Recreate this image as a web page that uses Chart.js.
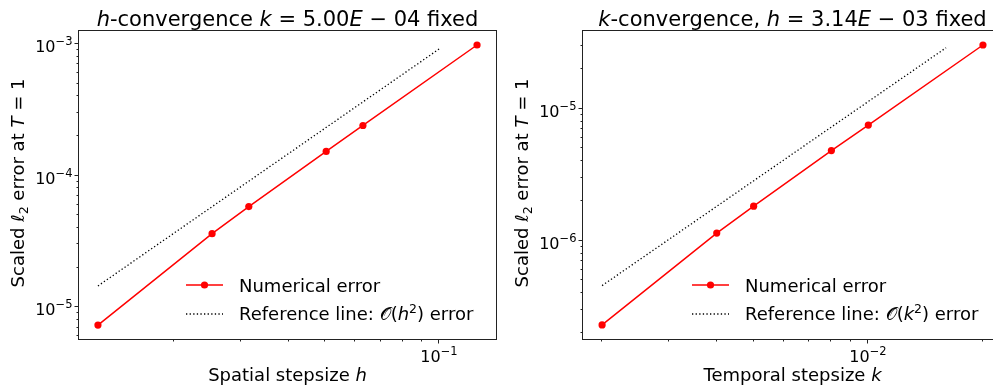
<!DOCTYPE html>
<html><head><meta charset="utf-8">
<script src="https://cdn.jsdelivr.net/npm/chart.js@4/dist/chart.umd.min.js"></script>
<style>
html,body{margin:0;padding:0;background:#fff;overflow:hidden;width:993px;height:386px;}
#wrap{position:relative;width:993px;height:386px;overflow:hidden;background:#fff;}
canvas{position:absolute;top:0;}
</style></head><body>
<div id="wrap">
<canvas id="c1" width="500" height="386" style="left:0px"></canvas>
<canvas id="c2" width="510" height="386" style="left:500px"></canvas>
</div>
<script>
// ---- data ----
const hValues = [0.012566, 0.025133, 0.031416, 0.050265, 0.062832, 0.125664];
const hErrors = [7.31e-6, 3.62e-5, 5.82e-5, 1.528e-4, 2.404e-4, 9.83e-4];
const hRefX = [0.012566, 0.10053];
const hRefY = [1.45e-5, 9.3e-4];

const kValues = [0.002, 0.004, 0.005, 0.008, 0.01, 0.02];
const kErrors = [2.30e-7, 1.143e-6, 1.828e-6, 4.82e-6, 7.52e-6, 3.043e-5];
const kRefX = [0.002, 0.016];
const kRefY = [4.57e-7, 2.90e-5];

const hAxis = {xmin: 0.01120, xmax: 0.1410, ymin: 5.73e-6, ymax: 1.256e-3};
const kAxis = {xmin: 0.001782, xmax: 0.02244, ymin: 1.80e-7, ymax: 3.885e-5};

const legendLabels = ['Numerical error', 'Reference line: '];

const FAM = "'DejaVu Sans'";
const TS = 21, LS = 18, SS = 12.5;
function fnt(s, it, fam) { return (it ? 'italic ' : '') + s + 'px ' + (fam || FAM); }
function richWidth(ctx, segs) {
  let w = 0;
  for (const g of segs) { ctx.font = fnt(g.s, g.it, g.f); w += ctx.measureText(g.t).width; }
  return w;
}
function drawRich(ctx, segs, x, y, align) {
  const w = richWidth(ctx, segs);
  let cx = align === 'center' ? x - w / 2 : align === 'right' ? x - w : x;
  ctx.textAlign = 'left'; ctx.textBaseline = 'alphabetic';
  for (const g of segs) {
    ctx.font = fnt(g.s, g.it, g.f);
    ctx.fillText(g.t, cx, y - (g.up || 0));
    cx += ctx.measureText(g.t).width;
  }
}
function logTicks(min, max) {
  const out = [];
  for (let e = Math.floor(Math.log10(min)); e <= Math.ceil(Math.log10(max)); e++) {
    for (let m = 1; m < 10; m++) {
      const v = m * Math.pow(10, e);
      if (v >= min && v <= max) out.push({v, major: m === 1, e});
    }
  }
  return out;
}
function expLabel(e) {
  return [{t: '10', s: 16}, {t: (e < 0 ? '\u2212' : '') + Math.abs(e), s: 11.5, up: 6.7}];
}

const deco = {
  id: 'deco',
  afterDraw(chart, args, o) {
    const ctx = chart.ctx, ca = chart.chartArea;
    const xs = chart.scales.x, ys = chart.scales.y;
    ctx.save();
    ctx.fillStyle = '#000';
    ctx.strokeStyle = '#222';
    // frame
    ctx.lineWidth = 1;
    ctx.strokeRect(ca.left - 0.5, ca.top - 0.5, ca.right - ca.left + 1, ca.bottom - ca.top + 1);
    // x ticks
    for (const t of logTicks(xs.min, xs.max)) {
      const px = Math.round(xs.getPixelForValue(t.v)) - 0.5;
      ctx.beginPath(); ctx.moveTo(px, ca.bottom); ctx.lineTo(px, ca.bottom + (t.major ? 4.5 : 2.5)); ctx.stroke();
      if (t.major) drawRich(ctx, expLabel(t.e), px + 0.5, ca.bottom + 22.7, 'center');
    }
    // y ticks
    for (const t of logTicks(ys.min, ys.max)) {
      const py = Math.round(ys.getPixelForValue(t.v)) - 0.5;
      ctx.beginPath(); ctx.moveTo(ca.left, py); ctx.lineTo(ca.left - (t.major ? 4.5 : 2.5), py); ctx.stroke();
      if (t.major) drawRich(ctx, expLabel(t.e), ca.left - 6.5, py + 0.5 + 7.7, 'right');
    }
    const cx = (ca.left + ca.right) / 2;
    // title
    drawRich(ctx, o.title, cx, 26, 'center');
    // x label
    drawRich(ctx, o.xlabel, cx, 381, 'center');
    // y label
    ctx.save();
    ctx.translate(o.ylabelX, (ca.top + ca.bottom) / 2 - 2);
    ctx.rotate(-Math.PI / 2);
    drawRich(ctx, o.ylabel, 0, 0, 'center');
    ctx.restore();
    // legend
    const hx0 = ca.right - 310, hx1 = ca.right - 273, tx = ca.right - 257;
    ctx.strokeStyle = '#ff0000'; ctx.lineWidth = 1.5;
    ctx.beginPath(); ctx.moveTo(hx0, 285); ctx.lineTo(hx1, 285); ctx.stroke();
    ctx.fillStyle = '#ff0000';
    ctx.beginPath(); ctx.arc((hx0 + hx1) / 2, 285, 3.6, 0, Math.PI * 2); ctx.fill();
    ctx.strokeStyle = '#000'; ctx.lineWidth = 1.3; ctx.setLineDash([1.3, 2.3]);
    ctx.beginPath(); ctx.moveTo(hx0, 314); ctx.lineTo(hx1, 314); ctx.stroke();
    ctx.setLineDash([]);
    ctx.fillStyle = '#000';
    drawRich(ctx, [{t: legendLabels[0], s: LS}], tx, 291.5, 'left');
    drawRich(ctx, o.legend2, tx, 320, 'left');
    ctx.restore();
  }
};

function pts(xa, ya) { return xa.map((x, i) => ({x, y: ya[i]})); }

function makeChart(id, xv, ev, rx, ry, ax, pad, d) {
  return new Chart(document.getElementById(id), {
    type: 'line',
    data: {
      datasets: [
        {data: pts(xv, ev), borderColor: '#ff0000', backgroundColor: '#ff0000', borderWidth: 1.5,
         pointRadius: 3.6, pointBorderWidth: 0, pointBackgroundColor: '#ff0000', tension: 0, order: 1},
        {data: pts(rx, ry), borderColor: '#000000', borderWidth: 1.3, borderDash: [1.3, 2.3],
         pointRadius: 0, tension: 0, order: 2}
      ]
    },
    options: {
      responsive: false, animation: false, devicePixelRatio: 1,
      layout: {padding: pad},
      plugins: {legend: {display: false}, title: {display: false}, tooltip: {enabled: false}, deco: d},
      scales: {
        x: {type: 'logarithmic', min: ax.xmin, max: ax.xmax, display: false},
        y: {type: 'logarithmic', min: ax.ymin, max: ax.ymax, display: false}
      }
    },
    plugins: [deco]
  });
}

function yLabel() {
  return [{t: 'Scaled ', s: LS}, {t: '\u2113', s: LS, it: 1}, {t: '2', s: SS, up: -3.8},
          {t: ' error at ', s: LS}, {t: 'T', s: LS, it: 1}, {t: ' = 1', s: LS}];
}
function refLabel(v) {
  return [{t: legendLabels[1], s: LS}, {t: '\uD835\uDCAA', s: LS}, {t: '(', s: LS}, {t: v, s: LS, it: 1},
          {t: '2', s: SS, up: 7.5}, {t: ') error', s: LS}];
}

makeChart('c1', hValues, hErrors, hRefX, hRefY, hAxis, {left: 79, right: 2, top: 31, bottom: 47}, {
  title: [{t: 'h', s: TS, it: 1}, {t: '-convergence ', s: TS}, {t: 'k', s: TS, it: 1}, {t: ' = 5.00', s: TS},
          {t: 'E', s: TS, it: 1}, {t: ' \u2212 04 fixed', s: TS}],
  xlabel: [{t: 'Spatial stepsize ', s: LS}, {t: 'h', s: LS, it: 1}],
  ylabel: yLabel(),
  ylabelX: 24,
  legend2: refLabel('h')
});
makeChart('c2', kValues, kErrors, kRefX, kRefY, kAxis, {left: 83, right: 8, top: 31, bottom: 47}, {
  title: [{t: 'k', s: TS, it: 1}, {t: '-convergence, ', s: TS}, {t: 'h', s: TS, it: 1}, {t: ' = 3.14', s: TS},
          {t: 'E', s: TS, it: 1}, {t: ' \u2212 03 fixed', s: TS}],
  xlabel: [{t: 'Temporal stepsize ', s: LS}, {t: 'k', s: LS, it: 1}],
  ylabel: yLabel(),
  ylabelX: 28,
  legend2: refLabel('k')
});
</script>
</body></html>
